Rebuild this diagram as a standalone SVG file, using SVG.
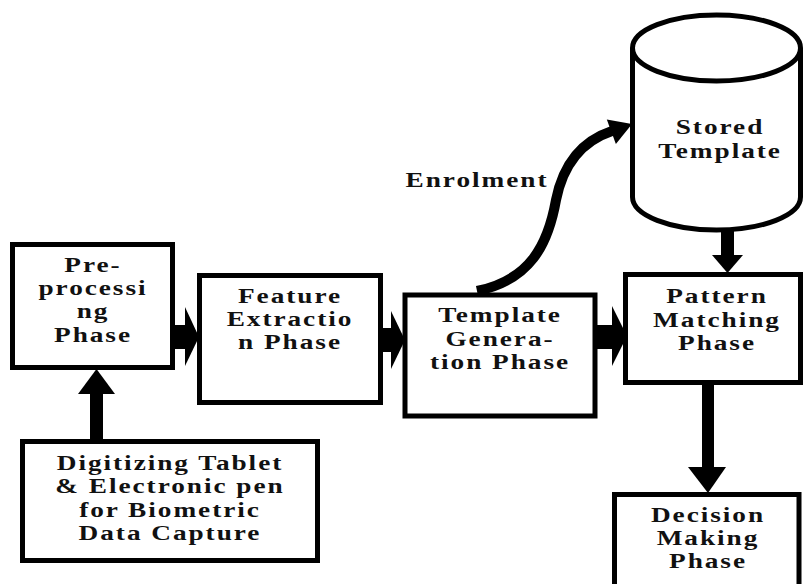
<svg xmlns="http://www.w3.org/2000/svg" width="803" height="584" viewBox="0 0 803 584">
<style>
.box{fill:#fff;stroke:#000;stroke-width:5}
.ar{fill:#000}
</style>
<rect width="803" height="584" fill="#fff"/>
<g id="connectors">
  <rect class="ar" x="173" y="325" width="13" height="24"/>
  <polygon class="ar" points="185,307 199,337 185,366"/>
  <rect class="ar" x="381" y="328" width="12" height="24"/>
  <polygon class="ar" points="391,311 405,340 391,369"/>
  <rect class="ar" x="595" y="325" width="19" height="24"/>
  <polygon class="ar" points="612,306 627,336 612,366"/>
  <rect class="ar" x="90" y="392" width="13" height="49"/>
  <polygon class="ar" points="78,394 96.5,369 115,394"/>
  <rect class="ar" x="721" y="228" width="13" height="29"/>
  <polygon class="ar" points="712,255 727.5,273 743,255"/>
  <rect class="ar" x="702" y="382" width="12" height="87"/>
  <polygon class="ar" points="688,467 708,493 726,467"/>
  <path d="M477,291 C530,280 548,245 556,200 C564,160 585,140 612,131" fill="none" stroke="#000" stroke-width="10"/>
  <polygon class="ar" points="632,124 606.8,119.5 615.9,143.9"/>
</g>
<g font-family="Liberation Serif" font-weight="bold" font-size="21" letter-spacing="1.5" text-anchor="middle" fill="#111">
<g id="preprocessing">
  <rect class="box" x="12.5" y="244.5" width="160" height="123"/>
  <text transform="translate(93,0) scale(1.3,1)" y="272">Pre-</text>
  <text transform="translate(93,0) scale(1.3,1)" y="295">processi</text>
  <text transform="translate(93,0) scale(1.3,1)" y="318">ng</text>
  <text transform="translate(93,0) scale(1.3,1)" y="342">Phase</text>
</g>
<g id="feature">
  <rect class="box" x="199.5" y="275.5" width="181" height="127"/>
  <text transform="translate(290,0) scale(1.3,1)" y="303">Feature</text>
  <text transform="translate(290,0) scale(1.3,1)" y="326">Extractio</text>
  <text transform="translate(290,0) scale(1.3,1)" y="349">n Phase</text>
</g>
<g id="template">
  <rect class="box" x="405" y="295" width="190" height="121"/>
  <text transform="translate(500,0) scale(1.3,1)" y="322">Template</text>
  <text transform="translate(500,0) scale(1.3,1)" y="346">Genera-</text>
  <text transform="translate(500,0) scale(1.3,1)" y="369">tion Phase</text>
</g>
<g id="pattern">
  <rect class="box" x="625.5" y="274.5" width="175" height="108"/>
  <text transform="translate(717,0) scale(1.3,1)" y="303">Pattern</text>
  <text transform="translate(717,0) scale(1.3,1)" y="327">Matching</text>
  <text transform="translate(717,0) scale(1.3,1)" y="350">Phase</text>
</g>
<g id="decision">
  <rect class="box" x="614.5" y="494.5" width="184.5" height="120"/>
  <text transform="translate(708,0) scale(1.3,1)" y="522">Decision</text>
  <text transform="translate(708,0) scale(1.3,1)" y="545">Making</text>
  <text transform="translate(708,0) scale(1.3,1)" y="568">Phase</text>
</g>
<g id="digitizing">
  <rect class="box" x="22.5" y="441.5" width="295" height="119"/>
  <text transform="translate(170,0) scale(1.3,1)" y="470">Digitizing Tablet</text>
  <text transform="translate(170,0) scale(1.3,1)" y="493">&amp; Electronic pen</text>
  <text transform="translate(170,0) scale(1.3,1)" y="517">for Biometric</text>
  <text transform="translate(170,0) scale(1.3,1)" y="540">Data Capture</text>
</g>
<g id="stored">
  <path class="box" d="M632.5,48 L632.5,197 A84,33 0 0 0 800.5,197 L800.5,48 A84,33 0 0 0 632.5,48 A84,33 0 0 0 800.5,48"/>
  <text transform="translate(720,0) scale(1.3,1)" y="134">Stored</text>
  <text transform="translate(720,0) scale(1.3,1)" y="158">Template</text>
</g>
<g id="enrolment-label">
  <text transform="translate(477,0) scale(1.3,1)" y="187">Enrolment</text>
</g>
</g>
</svg>
